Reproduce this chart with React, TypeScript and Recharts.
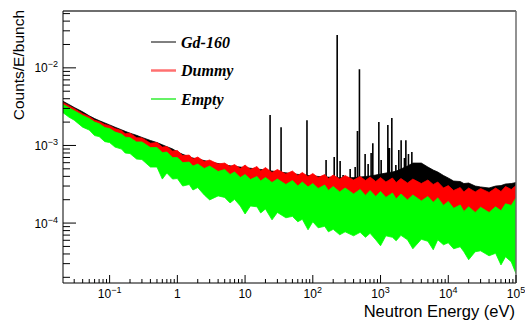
import { ComposedChart, Area, XAxis, YAxis, Legend } from "recharts";

// ROOT-style log-log spectrum: Gd-160 sample vs dummy vs empty holder.

const W = 525;
const H = 322;
const SANS = "'Liberation Sans', Arial, Helvetica, sans-serif";
const SERIF = "'Liberation Serif', 'Times New Roman', serif";

// bin energies (eV) used for the noisy bands
const energy = [
  0.02, 0.025, 0.03, 0.04, 0.05, 0.06, 0.07, 0.085, 0.1, 0.12,
  0.15, 0.17, 0.2, 0.25, 0.3, 0.4, 0.5, 0.6, 0.7, 0.85,
  1, 1.2, 1.5, 1.7, 2, 2.5, 3, 4, 5, 6,
  7, 8.5, 10, 12, 15, 17, 20, 25, 30, 40,
  50, 60, 70, 85, 100, 120, 150, 170, 200, 250,
  300, 400, 500, 600, 700, 850, 1000, 1200, 1500, 1700,
  2000, 2500, 3000, 4000, 5000, 6000, 7000, 8500, 1e4, 1.2e4,
  1.5e4, 1.7e4, 2e4, 2.5e4, 3e4, 4e4, 5e4, 6e4, 7e4, 8.5e4, 1e5,
];

// Gd-160: upper edge of the continuum
const gdTop = [
  3.75e-3, 3.38e-3, 3.09e-3, 2.71e-3, 2.41e-3, 2.22e-3, 2.09e-3, 1.95e-3, 1.84e-3, 1.72e-3,
  1.59e-3, 1.52e-3, 1.44e-3, 1.35e-3, 1.27e-3, 1.16e-3, 1.09e-3, 1.02e-3, 9.64e-4, 9.03e-4,
  8.27e-4, 7.68e-4, 7.15e-4, 6.88e-4, 6.68e-4, 6.38e-4, 6.11e-4, 5.85e-4, 5.62e-4, 5.46e-4,
  5.35e-4, 5.27e-4, 5.17e-4, 5.09e-4, 4.97e-4, 4.91e-4, 4.81e-4, 4.68e-4, 4.57e-4, 4.44e-4,
  4.33e-4, 4.24e-4, 4.18e-4, 4.11e-4, 4.05e-4, 3.99e-4, 3.94e-4, 3.91e-4, 3.87e-4, 3.83e-4,
  3.81e-4, 3.86e-4, 3.92e-4, 3.98e-4, 4.04e-4, 4.16e-4, 4.28e-4, 4.41e-4, 4.55e-4, 4.68e-4,
  4.97e-4, 5.43e-4, 5.93e-4, 5.93e-4, 5.27e-4, 4.82e-4, 4.55e-4, 4.1e-4, 3.81e-4, 3.48e-4,
  3.43e-4, 3.23e-4, 3.28e-4, 3.0e-4, 2.92e-4, 2.83e-4, 3.0e-4, 3.04e-4, 3.19e-4, 3.23e-4, 3.33e-4,
];

// Gd-160 resonances (eV) and their peak heights
const peakEnergy = [
  23.4, 34, 82, 157, 207, 229, 253, 280, 356, 422, 456, 488, 592, 656, 726,
  769, 944, 1021, 1169, 1282, 1353, 1468, 1683, 1862, 2014, 2254, 2366, 2584, 2899,
];
const peakHeight = [
  2.46e-3, 1.72e-3, 2.12e-3, 6.49e-4, 7.09e-4, 2.64e-2, 6.3e-4, 4.16e-4, 4.97e-4, 5.27e-4,
  1.53e-3, 9.62e-3, 7.75e-4, 5.76e-4, 7.98e-4, 1.07e-3, 2.0e-3, 6.49e-4, 4.16e-4, 1.83e-3,
  9.25e-4, 2.25e-3, 5.59e-4, 8.72e-4, 1.17e-3, 6.88e-4, 1.17e-3, 7.75e-4, 8.22e-4,
];
const PEAK_FLOOR = 1.8e-4;

// Dummy: band top and (hidden) band floor
const dummyTop = [
  3.62e-3, 3.26e-3, 2.99e-3, 2.57e-3, 2.36e-3, 2.12e-3, 2.03e-3, 1.86e-3, 1.8e-3, 1.65e-3,
  1.56e-3, 1.42e-3, 1.44e-3, 1.26e-3, 1.25e-3, 1.07e-3, 1.09e-3, 9.53e-4, 9.67e-4, 8.47e-4,
  8.6e-4, 7.41e-4, 7.52e-4, 6.68e-4, 7.09e-4, 6.2e-4, 6.49e-4, 5.76e-4, 5.93e-4, 5.35e-4,
  5.67e-4, 5.04e-4, 5.59e-4, 4.9e-4, 5.35e-4, 4.68e-4, 5.19e-4, 4.48e-4, 4.9e-4, 4.28e-4,
  4.68e-4, 4.1e-4, 4.48e-4, 3.98e-4, 4.35e-4, 3.86e-4, 4.22e-4, 3.75e-4, 4.16e-4, 3.69e-4,
  4.1e-4, 3.59e-4, 3.98e-4, 3.53e-4, 3.92e-4, 3.43e-4, 3.86e-4, 3.38e-4, 3.81e-4, 3.33e-4,
  3.75e-4, 3.28e-4, 3.69e-4, 3.23e-4, 3.59e-4, 3.14e-4, 3.38e-4, 2.83e-4, 3.04e-4, 2.63e-4,
  2.87e-4, 2.52e-4, 2.83e-4, 2.52e-4, 2.79e-4, 2.48e-4, 2.83e-4, 2.55e-4, 2.96e-4, 2.71e-4, 3.04e-4,
];
const dummyFloor = [
  2.77e-3, 2.5e-3, 2.28e-3, 1.98e-3, 1.79e-3, 1.64e-3, 1.53e-3, 1.41e-3, 1.32e-3, 1.23e-3,
  1.12e-3, 1.06e-3, 1.0e-3, 9.3e-4, 8.75e-4, 7.93e-4, 7.34e-4, 6.88e-4, 6.49e-4, 5.93e-4,
  5.51e-4, 5.12e-4, 4.77e-4, 4.66e-4, 4.52e-4, 4.35e-4, 4.22e-4, 3.99e-4, 3.8e-4, 3.64e-4,
  3.51e-4, 3.36e-4, 3.23e-4, 3.14e-4, 3.06e-4, 3.02e-4, 2.97e-4, 2.9e-4, 2.84e-4, 2.75e-4,
  2.69e-4, 2.63e-4, 2.59e-4, 2.54e-4, 2.49e-4, 2.42e-4, 2.35e-4, 2.3e-4, 2.25e-4, 2.18e-4,
  2.13e-4, 2.08e-4, 2.03e-4, 1.99e-4, 1.96e-4, 1.92e-4, 1.89e-4, 1.85e-4, 1.81e-4, 1.79e-4,
  1.77e-4, 1.74e-4, 1.71e-4, 1.67e-4, 1.64e-4, 1.62e-4, 1.55e-4, 1.48e-4, 1.41e-4, 1.35e-4,
  1.28e-4, 1.24e-4, 1.2e-4, 1.2e-4, 1.2e-4, 1.2e-4, 1.2e-4, 1.24e-4, 1.33e-4, 1.48e-4, 1.62e-4,
];

// Empty: band top and bottom
const emptyTop = [
  3.41e-3, 3.07e-3, 2.81e-3, 2.43e-3, 2.22e-3, 2.0e-3, 1.91e-3, 1.7e-3, 1.65e-3, 1.49e-3,
  1.4e-3, 1.28e-3, 1.26e-3, 1.11e-3, 1.11e-3, 9.39e-4, 9.39e-4, 8.1e-4, 8.22e-4, 6.98e-4,
  6.98e-4, 6.02e-4, 6.11e-4, 5.43e-4, 5.76e-4, 5.04e-4, 5.43e-4, 4.62e-4, 4.9e-4, 4.22e-4,
  4.55e-4, 3.86e-4, 4.22e-4, 3.64e-4, 3.98e-4, 3.48e-4, 3.86e-4, 3.33e-4, 3.69e-4, 3.14e-4,
  3.53e-4, 3.0e-4, 3.38e-4, 2.92e-4, 3.23e-4, 2.79e-4, 3.09e-4, 2.63e-4, 2.96e-4, 2.52e-4,
  2.83e-4, 2.37e-4, 2.71e-4, 2.27e-4, 2.63e-4, 2.2e-4, 2.55e-4, 2.14e-4, 2.44e-4, 2.05e-4,
  2.37e-4, 1.99e-4, 2.3e-4, 1.93e-4, 2.2e-4, 1.85e-4, 2.11e-4, 1.69e-4, 1.9e-4, 1.55e-4,
  1.71e-4, 1.41e-4, 1.62e-4, 1.37e-4, 1.6e-4, 1.37e-4, 1.62e-4, 1.44e-4, 1.77e-4, 1.69e-4, 2.11e-4,
];
const emptyBottom = [
  2.69e-3, 2.32e-3, 2.12e-3, 1.72e-3, 1.58e-3, 1.34e-3, 1.3e-3, 1.12e-3, 1.09e-3, 9.53e-4,
  8.98e-4, 7.98e-4, 7.86e-4, 6.68e-4, 6.58e-4, 5.27e-4, 5.27e-4, 3.69e-4, 4.41e-4, 3.69e-4,
  3.75e-4, 3.0e-4, 3.14e-4, 2.67e-4, 2.87e-4, 2.3e-4, 1.99e-4, 2.24e-4, 2.14e-4, 1.82e-4,
  2.02e-4, 1.66e-4, 1.31e-4, 1.66e-4, 1.62e-4, 1.35e-4, 1.52e-4, 1.1e-4, 1.37e-4, 1.17e-4,
  1.22e-4, 1.04e-4, 1.12e-4, 8.19e-5, 1.04e-4, 8.69e-5, 9.08e-5, 7.71e-5, 8.31e-5, 7.06e-5,
  7.71e-5, 6.85e-5, 7.6e-5, 6.55e-5, 7.38e-5, 6.09e-5, 5.1e-5, 6.85e-5, 6.55e-5, 5.91e-5,
  6.95e-5, 6.09e-5, 4.66e-5, 6.18e-5, 5.82e-5, 4.53e-5, 6.09e-5, 5.25e-5, 5.57e-5, 4.66e-5,
  4.95e-5, 4.27e-5, 3.37e-5, 4.27e-5, 4.39e-5, 3.79e-5, 4.08e-5, 2.89e-5, 3.68e-5, 3.17e-5, 2.23e-5,
];

const legendItems = [
  { name: "Gd-160", color: "#000000", width: 1 },
  { name: "Dummy", color: "#ff7070", width: 2.5 },
  { name: "Empty", color: "#33ee33", width: 1.5 },
];

const X_DOMAIN: [number, number] = [0.0205, 1e5];
const Y_DOMAIN: [number, number] = [1.69e-5, 0.054];
const steps = [1, 2, 3, 4, 5, 6, 7, 8, 9];
const xDecades = [0.01, 0.1, 1, 10, 100, 1000, 1e4, 1e5];
const yDecades = [1e-5, 1e-4, 1e-3, 1e-2];

const inside = (v: number, d: [number, number]) => v >= d[0] && v <= d[1] * 1.0001;
const xTicks = xDecades.flatMap((d) => steps.map((m) => m * d)).filter((v) => inside(v, X_DOMAIN));
const yTicks = yDecades.flatMap((d) => steps.map((m) => m * d)).filter((v) => inside(v, Y_DOMAIN));

const isDecade = (v: number) => Math.abs(Math.log10(v) - Math.round(Math.log10(v))) < 1e-6;
const minus = (n: number) => (n < 0 ? `\u2212${-n}` : `${n}`);

const gdBand = energy.map((e, i) => ({ e, v: [dummyFloor[i], gdTop[i]] }));
// each resonance is a zero-width spike drawn by the area's outline
const gdLines = peakEnergy.flatMap((e, i) => [
  { e, v: [PEAK_FLOOR, PEAK_FLOOR] },
  { e, v: [PEAK_FLOOR, peakHeight[i]] },
  { e, v: [PEAK_FLOOR, PEAK_FLOOR] },
]);
const dummyBand = energy.map((e, i) => ({ e, v: [dummyFloor[i], dummyTop[i]] }));
const emptyBand = energy.map((e, i) => ({ e, v: [emptyBottom[i], emptyTop[i]] }));

function XTick(props: any) {
  const { x, y, payload } = props;
  const v = payload.value as number;
  const major = isDecade(v);
  const n = Math.round(Math.log10(v));
  return (
    <g>
      <line x1={x} x2={x} y1={y} y2={y - (major ? 8 : 4)} stroke="#000" strokeWidth={1} />
      {major && (
        <text x={x} y={y + 15} textAnchor="middle" fontFamily={SANS} fontSize={12} fill="#000">
          {n === 0 ? "1" : n === 1 ? "10" : (
            <>
              10
              <tspan dy={-5} fontSize={9}>{minus(n)}</tspan>
            </>
          )}
        </text>
      )}
    </g>
  );
}

function YTick(props: any) {
  const { x, y, payload } = props;
  const v = payload.value as number;
  const major = isDecade(v);
  const n = Math.round(Math.log10(v));
  return (
    <g>
      <line x1={x} x2={x + (major ? 13 : 7)} y1={y} y2={y} stroke="#000" strokeWidth={1} />
      {major && (
        <text x={x - 5} y={y + 4.5} textAnchor="end" fontFamily={SANS} fontSize={12} fill="#000">
          10
          <tspan dy={-5} fontSize={9}>{minus(n)}</tspan>
        </text>
      )}
    </g>
  );
}

function LegendBox() {
  return (
    <svg width={W} height={120} style={{ display: "block" }}>
      {legendItems.map((it, i) => {
        const y = 42 + i * 28.5;
        return (
          <g key={it.name}>
            <line x1={151} x2={176} y1={y} y2={y} stroke={it.color} strokeWidth={it.width} />
            <text
              x={181}
              y={y + 5.5}
              fontFamily={SERIF}
              fontStyle="italic"
              fontWeight="bold"
              fontSize={16}
              fill="#000"
            >
              {it.name}
            </text>
          </g>
        );
      })}
    </svg>
  );
}

export default function App() {
  return (
    <div style={{ position: "absolute", left: 0, top: 0, background: "#fff" }}>
      <ComposedChart width={W} height={H} margin={{ top: 10, right: 8, left: 62, bottom: 38 }}>
        <XAxis
          dataKey="e"
          type="number"
          scale="log"
          domain={X_DOMAIN}
          allowDataOverflow
          ticks={xTicks}
          interval={0}
          tick={<XTick />}
          tickLine={false}
          tickSize={0}
          tickMargin={0}
          height={1}
          axisLine={{ stroke: "#000", strokeWidth: 1 }}
          label={() => (
            <text x={515} y={317} textAnchor="end" fontFamily={SANS} fontSize={16.5} fill="#000">
              Neutron Energy (eV)
            </text>
          )}
        />
        <XAxis
          xAxisId="top"
          orientation="top"
          dataKey="e"
          type="number"
          scale="log"
          domain={X_DOMAIN}
          allowDataOverflow
          tick={false}
          tickLine={false}
          height={1}
          axisLine={{ stroke: "#6e6e6e", strokeWidth: 2 }}
        />
        <YAxis
          type="number"
          scale="log"
          domain={Y_DOMAIN}
          allowDataOverflow
          ticks={yTicks}
          interval={0}
          tick={<YTick />}
          tickLine={false}
          tickSize={0}
          tickMargin={0}
          width={1}
          axisLine={{ stroke: "#000", strokeWidth: 1 }}
          label={() => (
            <text
              transform="rotate(-90)"
              x={-10}
              y={24}
              textAnchor="end"
              fontFamily={SANS}
              fontSize={15.5}
              fill="#000"
            >
              Counts/E/bunch
            </text>
          )}
        />
        <YAxis
          yAxisId="right"
          orientation="right"
          type="number"
          scale="log"
          domain={Y_DOMAIN}
          allowDataOverflow
          tick={false}
          tickLine={false}
          width={1}
          axisLine={{ stroke: "#6e6e6e", strokeWidth: 1.5 }}
        />
        <Legend
          layout="horizontal"
          verticalAlign="middle"
          align="center"
          wrapperStyle={{ left: 0, top: 0, width: W, height: 120 }}
          content={() => <LegendBox />}
        />
        <Area
          data={gdBand}
          dataKey="v"
          name="Gd-160"
          type="linear"
          stroke="#000"
          strokeWidth={0.8}
          fill="#000"
          fillOpacity={1}
          isAnimationActive={false}
        />
        <Area
          data={gdLines}
          dataKey="v"
          name="Gd-160 resonances"
          type="linear"
          stroke="#000"
          strokeWidth={1.6}
          fill="#000"
          fillOpacity={1}
          isAnimationActive={false}
          legendType="none"
        />
        <Area
          data={dummyBand}
          dataKey="v"
          name="Dummy"
          type="linear"
          stroke="#ff0000"
          strokeWidth={0.8}
          fill="#ff0000"
          fillOpacity={1}
          isAnimationActive={false}
        />
        <Area
          data={emptyBand}
          dataKey="v"
          name="Empty"
          type="linear"
          stroke="#00ff00"
          strokeWidth={0.8}
          fill="#00ff00"
          fillOpacity={1}
          isAnimationActive={false}
        />
      </ComposedChart>
    </div>
  );
}
